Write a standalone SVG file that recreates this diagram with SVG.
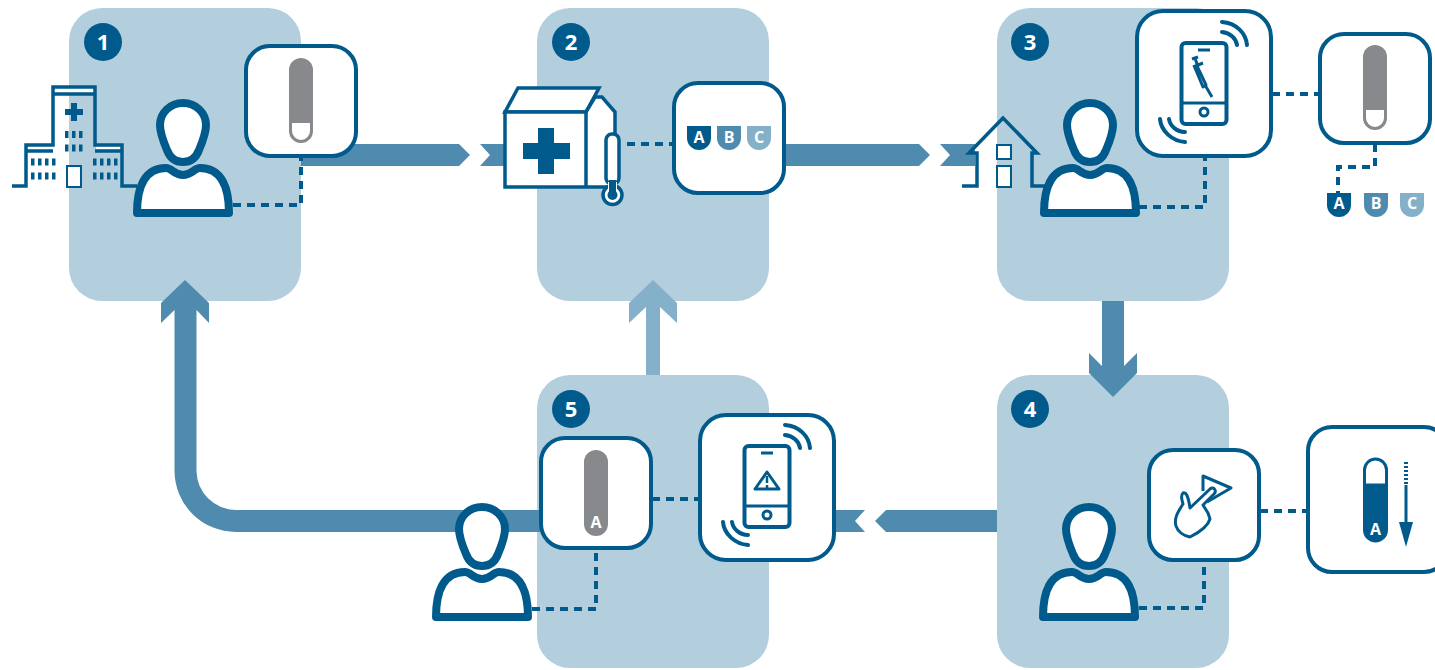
<svg xmlns="http://www.w3.org/2000/svg" width="1435" height="670" viewBox="0 0 1435 670">
<style>
.panel{fill:#b3cfde}
.arrow{fill:#4f8bae}
.light{fill:#85b0c9}
.box{fill:#fff;stroke:#005a8c;stroke-width:4}
.line{fill:none;stroke:#005a8c;stroke-width:3.500}
.l4{fill:none;stroke:#005a8c;stroke-width:4;stroke-linecap:round}
.l3{fill:none;stroke:#005a8c;stroke-width:3;stroke-linejoin:round}
.fillw{fill:#fff;stroke:#005a8c;stroke-width:3.500}
.thin{fill:#fff;stroke:#005a8c;stroke-width:2}
.person{fill:#fff;stroke:#005a8c;stroke-width:8;stroke-linejoin:round}
.dash{fill:none;stroke:#005a8c;stroke-width:4;stroke-dasharray:8 6}
.win{fill:none;stroke:#005a8c;stroke-width:7;stroke-dasharray:3.500 3.500}
.dark{fill:#005a8c}
.num{font:700 22px "Open Sans",sans-serif;fill:#fff;text-anchor:middle}
.let{font:700 16px "Open Sans",sans-serif;fill:#fff;text-anchor:middle}
.grey{fill:#87898d}
</style>
<defs>
<g id="person">
<path class="person" d="M137 213C137 190 143 168 166 168C172 168 174 175 183 175C192 175 194 168 200 168C223 168 229 190 229 213Z"/>
<path class="person" d="M183 103C196 103 206 113 206 125C206 132 202 143 199 150C196 158 190 162 183 162C176 162 170 158 167 150C164 143 160 132 160 125C160 113 170 103 183 103Z"/>
</g>
<g id="capsule">
<path class="grey" d="M289 120V70a12 12 0 0 1 24 0V120Z"/>
<path d="M290.500 121.500H311.500V131a10.500 10.500 0 0 1-21 0Z" fill="#fff" stroke="#87898d" stroke-width="3"/>
</g>
<path id="shield" d="M0 0H24V12a12 12 0 0 1-24 0Z"/>
<g id="phone">
<rect class="l4" x="-22.500" y="-40" width="45" height="81" rx="4"/>
<path class="l3" d="M-22 20H22"/>
<path class="l3" d="M-6-33H6"/>
<circle class="l3" cx="0" cy="29" r="4"/>
<path class="l4" d="M18-61C32-60 42-50 43-38M18-51C26-50 32-45 33-38M-44 36C-43 48-32 58-19 59M-35 36C-34 43-27 49-19 49"/>
</g>
</defs>

<g id="panels">
<rect class="panel" x="69" y="8" width="232" height="293" rx="33"/>
<rect class="panel" x="537" y="8" width="232" height="293" rx="33"/>
<rect class="panel" x="997" y="8" width="232" height="293" rx="33"/>
<rect class="panel" x="997" y="375" width="232" height="293" rx="33"/>
<rect class="panel" x="537" y="375" width="232" height="293" rx="33"/>
</g>

<g id="connectors">
<path class="arrow" d="M301 144H459L470 155L459 166H301Z"/>
<path class="arrow" d="M480 144H510V166H480L490 155Z"/>
<path class="arrow" d="M785 144H919L930 155L919 166H785Z"/>
<path class="arrow" d="M940 144H975V166H940L950 155Z"/>
<path class="arrow" d="M1102 301H1124V366L1137 353V373L1113 397L1089 373V353L1102 366Z"/>
<path class="arrow" d="M997 510H886L875 521L886 532H997Z"/>
<path class="arrow" d="M865 510H835V532H865L855 521Z"/>
<path class="light" d="M646 375V307L629 323V303L653 280L677 303V323L660 307V375Z"/>
<path class="arrow" d="M540 510H236A39.500 39.500 0 0 1 196.500 471V310L209 323V303L185 280L161 303V323L174.500 310V471A61.500 61.500 0 0 0 236 532H540Z"/>
<path class="dash" d="M233 205H301V157"/>
<path class="dash" d="M627 144H675"/>
<path class="dash" d="M1139 207H1205V157"/>
<path class="dash" d="M1272 94H1320"/>
<path class="dash" d="M1375 144V167H1338V195"/>
<path class="dash" d="M1139 608H1204V560"/>
<path class="dash" d="M1260 511H1308"/>
<path class="dash" d="M532 609H596V549"/>
<path class="dash" d="M652 499H700"/>
</g>

<g id="node1">
<circle class="dark" cx="103" cy="42" r="19"/><text class="num" x="103" y="50">1</text>
<g id="hospital">
<rect x="54" y="88" width="41" height="5" fill="#fff"/>
<rect x="28" y="146.500" width="25" height="3" fill="#fff"/>
<rect x="96" y="146.500" width="25" height="3" fill="#fff"/>
<path class="line" d="M12 186H26V145H53V87H95V145H122V186H137"/>
<path class="line" d="M53 94H95M26 151H53M95 151H122"/>
<path class="dark" d="M71 103H77V109H83V115H77V121H71V115H65V109H71Z"/>
<path class="win" d="M65 134.500h18M65 148h18"/>
<path class="win" d="M31 162h25M31 176h25M93 162h25M93 176h25"/>
<rect class="thin" x="67" y="166" width="14" height="21"/>
</g>
<use href="#person"/>
<rect class="box" x="246" y="46" width="110" height="110" rx="24"/>
<use href="#capsule"/>
</g>

<g id="node2">
<circle class="dark" cx="571" cy="42" r="19"/><text class="num" x="571" y="50">2</text>
<path class="fillw" d="M505 112L518 88H599L586 112Z"/>
<path class="fillw" d="M586 112L595 97H602L615 112V187H505V112Z"/>
<path class="line" d="M586 112V187"/>
<path class="dark" d="M538 128H554V143H570V159H554V174H538V159H523V143H538Z"/>
<rect class="fillw" x="606" y="134" width="13" height="50" rx="6"/>
<circle class="fillw" cx="612.500" cy="195" r="9.500"/>
<path d="M608 182H617V189H608Z" fill="#fff"/>
<rect class="dark" x="609" y="180" width="7" height="14"/>
<circle class="dark" cx="612.500" cy="195" r="5"/>
<rect class="box" x="674" y="83" width="110" height="110" rx="24"/>
<use href="#shield" x="687" y="126" class="dark"/><text class="let" x="699" y="143">A</text>
<use href="#shield" x="717" y="126" class="arrow"/><text class="let" x="729" y="143">B</text>
<use href="#shield" x="747" y="126" class="light"/><text class="let" x="759" y="143">C</text>
</g>

<g id="node3">
<circle class="dark" cx="1030" cy="42" r="19"/><text class="num" x="1030" y="50">3</text>
<path class="line" d="M962 186H977V153H969L1003 118L1037 153H1032V186H1045"/>
<rect class="thin" x="997" y="145" width="14" height="14"/>
<rect class="thin" x="997" y="166" width="14" height="21"/>
<use href="#person" x="907"/>
<rect class="box" x="1137" y="11" width="134" height="145" rx="26"/>
<use href="#phone" x="1204" y="83"/>
<g id="syringe" class="l3">
<path d="M1192 59L1198 57M1195 58L1198 67M1193 67L1203 63M1197 66L1206 85L1203 87L1195 68ZM1205 85L1212 97"/>
</g>
<rect class="box" x="1320" y="34" width="110" height="109" rx="24"/>
<use href="#capsule" x="1074" y="-13"/>
<use href="#shield" x="1327" y="193" class="dark"/><text class="let" x="1339" y="209">A</text>
<use href="#shield" x="1364" y="193" class="arrow"/><text class="let" x="1376" y="209">B</text>
<use href="#shield" x="1400" y="193" class="light"/><text class="let" x="1412" y="209">C</text>
</g>

<g id="node4">
<circle class="dark" cx="1030" cy="409" r="19"/><text class="num" x="1030" y="417">4</text>
<use href="#person" x="906" y="404"/>
<rect class="box" x="1149" y="450" width="110" height="110" rx="24"/>
<path class="l3" d="M1203 491V476L1231 488L1207 502"/>
<path class="l3" d="M1190 508L1210 489C1214 486 1217 491 1214 494L1203 505L1208 513L1210 519C1208 526 1200 532 1190 537C1184 536 1178 532 1176 526C1174 519 1177 513 1183 504C1182 500 1180 496 1183 493C1186 492 1188 495 1190 508Z"/>
<rect class="box" x="1308" y="427" width="140" height="145" rx="24"/>
<path d="M1364.500 485V470a11 11 0 0 1 22 0V485Z" fill="#fff" stroke="#005a8c" stroke-width="3"/>
<path class="dark" d="M1363 486H1388V530a12.500 12.500 0 0 1-25 0Z"/>
<text class="let" x="1375.500" y="535">A</text>
<path d="M1406 462V485" stroke="#005a8c" stroke-width="4" stroke-dasharray="2 2"/>
<path d="M1406 485V524" stroke="#005a8c" stroke-width="3"/>
<path class="dark" d="M1399 522H1413L1406 547Z"/>
</g>

<g id="node5">
<circle class="dark" cx="571" cy="409" r="19"/><text class="num" x="571" y="417">5</text>
<use href="#person" x="299" y="404"/>
<rect class="box" x="541" y="438" width="110" height="110" rx="24"/>
<path class="grey" d="M584 462a12 12 0 0 1 24 0V524a12 12 0 0 1-24 0Z"/>
<text class="let" x="596" y="528">A</text>
<rect class="box" x="700" y="415" width="134" height="145" rx="26"/>
<use href="#phone" x="767" y="486"/>
<path class="l3" d="M767 472L755 489H779Z"/>
<path d="M767 476V483M767 485V488" stroke="#005a8c" stroke-width="2.500"/>
</g>
</svg>
